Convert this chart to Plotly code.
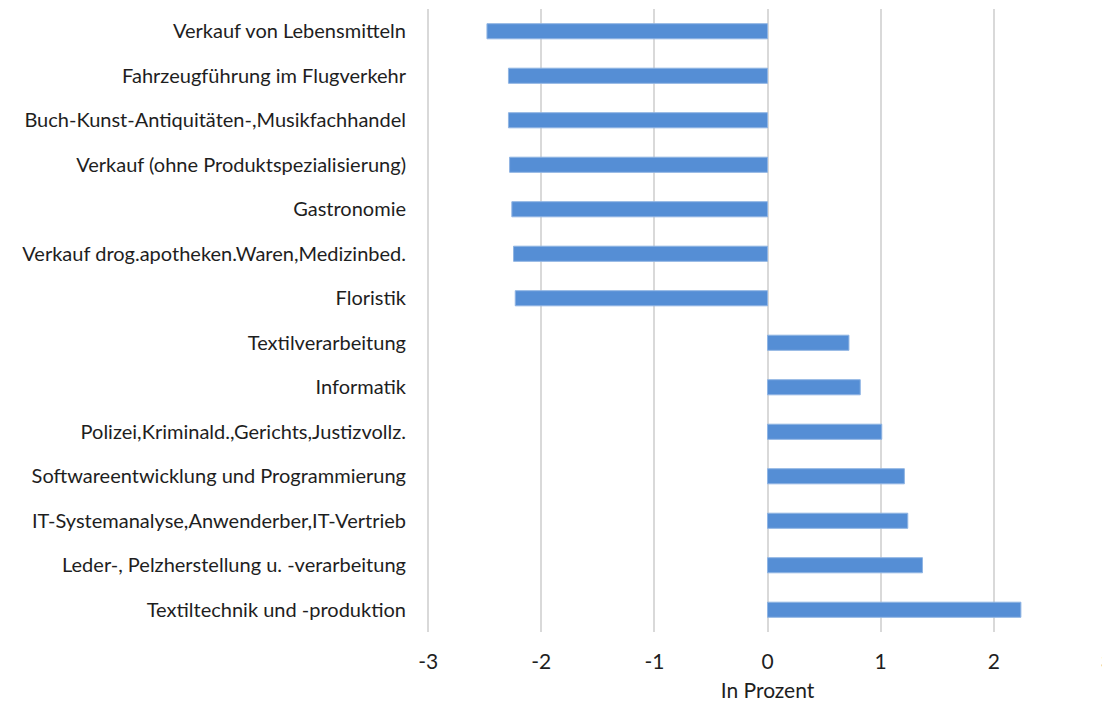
import plotly.graph_objects as go

categories = [
    "Verkauf von Lebensmitteln",
    "Fahrzeugführung im Flugverkehr",
    "Buch-Kunst-Antiquitäten-,Musikfachhandel",
    "Verkauf (ohne Produktspezialisierung)",
    "Gastronomie",
    "Verkauf drog.apotheken.Waren,Medizinbed.",
    "Floristik",
    "Textilverarbeitung",
    "Informatik",
    "Polizei,Kriminald.,Gerichts,Justizvollz.",
    "Softwareentwicklung und Programmierung",
    "IT-Systemanalyse,Anwenderber,IT-Vertrieb",
    "Leder-, Pelzherstellung u. -verarbeitung",
    "Textiltechnik und -produktion",
]
values = [-2.48, -2.29, -2.29, -2.28, -2.26, -2.245, -2.23,
          0.72, 0.82, 1.01, 1.21, 1.24, 1.37, 2.24]
x_ticks = [-3, -2, -1, 0, 1, 2, 3]
x_title = "In Prozent"

fig = go.Figure(go.Bar(
    y=categories, x=values, orientation="h",
    marker=dict(color="#558ed5", line=dict(color="#8fb4e3", width=1)),
))

font = "Lato, 'Open Sans', sans-serif"
txt = "#1e1e1e"
fig.update_layout(
    width=1110, height=704,
    margin=dict(l=419, r=10, t=1, b=80, autoexpand=False),
    plot_bgcolor="white", paper_bgcolor="white",
    bargap=0.66, showlegend=False,
    font=dict(family=font, size=20, color=txt),
)
fig.update_yaxes(
    categoryorder="array", categoryarray=categories, autorange="reversed",
    showgrid=False, zeroline=False, showline=False, automargin=False,
    ticks="", ticklabelstandoff=20,
    tickfont=dict(size=20, color=txt),
)
fig.update_xaxes(
    range=[-3.01, 3.01], tickvals=x_ticks, ticktext=[str(v) for v in x_ticks],
    showgrid=True, gridcolor="#d9d9d9", gridwidth=1.5,
    zeroline=True, zerolinecolor="#d9d9d9", zerolinewidth=1.5,
    showline=False, ticks="", ticklabelstandoff=15, automargin=False,
    tickfont=dict(size=21, color=txt),
    title=dict(text=x_title, font=dict(size=21, color=txt), standoff=11),
)

fig.write_html("out.html")
